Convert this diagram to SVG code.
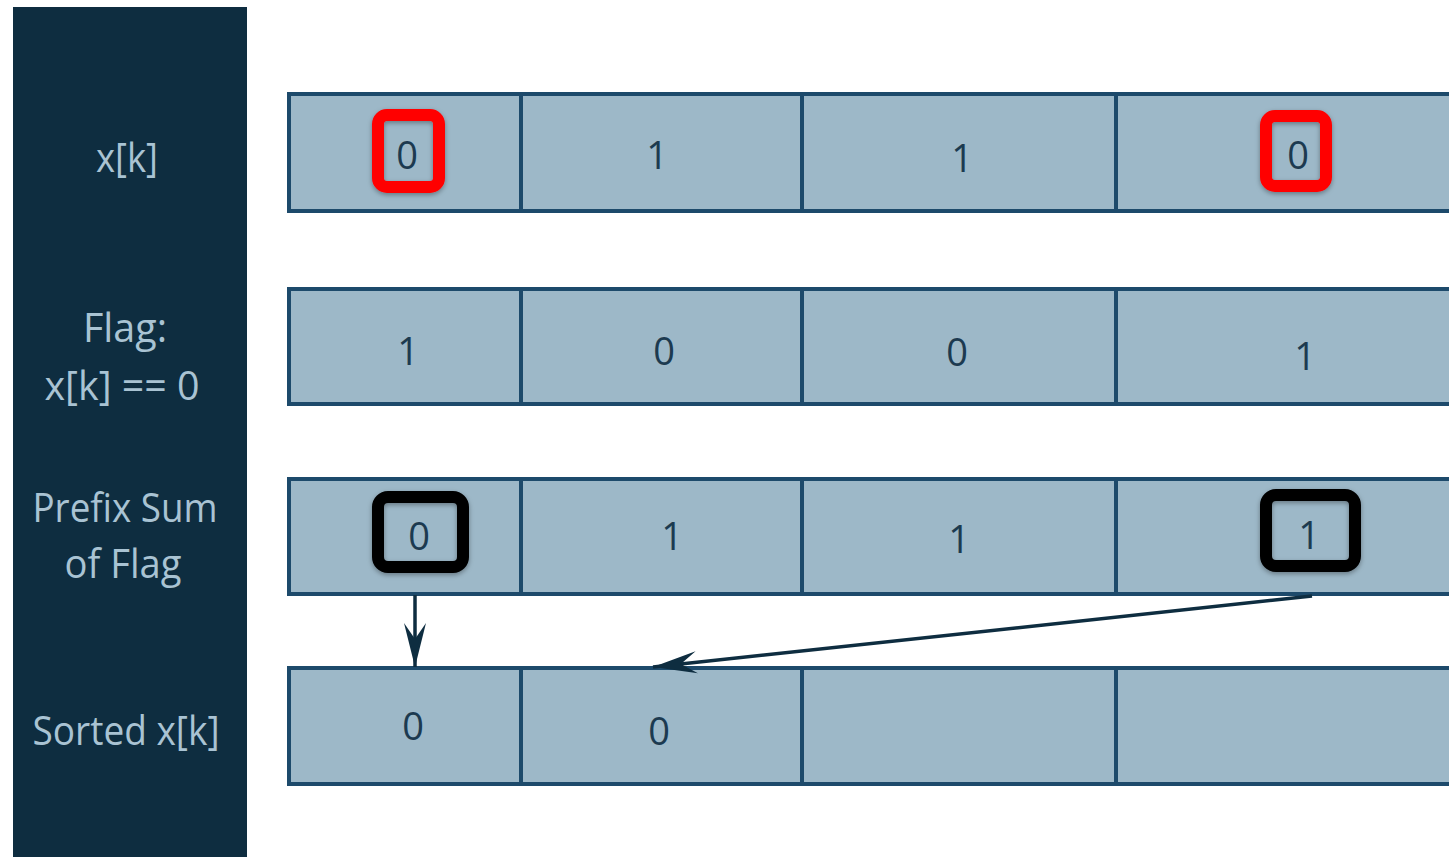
<svg xmlns="http://www.w3.org/2000/svg" width="1449" height="857" viewBox="0 0 1449 857">
<defs>
<style>
.cell{fill:#9db8c8;stroke:#1d4a6b;stroke-width:4}
.lbl{font-family:"Open Sans","Noto Sans","Liberation Sans",sans-serif;font-size:40px;fill:#a9c3d3;text-anchor:middle}
.num{font-family:"Open Sans","Noto Sans","Liberation Sans",sans-serif;font-size:38px;fill:#1c3a50;text-anchor:middle}
.hl{fill:none;stroke-width:12}
.red{stroke:#ff0000}
.blk{stroke:#000000}
.conn{stroke:#0e2d40;stroke-width:3.5;fill:none}
</style>
<marker id="ah" viewBox="0 0 44 24" refX="44" refY="12" markerWidth="44" markerHeight="24" markerUnits="userSpaceOnUse" orient="auto">
<path d="M0,1 L44,12 L0,23 L16,12 Z" fill="#0e2d40"/>
</marker>
<filter id="sh" x="-20%" y="-20%" width="140%" height="140%">
<feDropShadow dx="0" dy="2" stdDeviation="2.5" flood-color="#000" flood-opacity="0.35"/>
</filter>
</defs>
<rect width="1449" height="857" fill="#ffffff"/>
<g id="panel">
<rect x="13" y="7" width="234" height="860" fill="#0e2d40"/>
<text class="lbl" x="127" y="172" textLength="62" lengthAdjust="spacingAndGlyphs">x[k]</text>
<text class="lbl" x="125" y="342" textLength="84" lengthAdjust="spacingAndGlyphs">Flag:</text>
<text class="lbl" x="122" y="400" textLength="155" lengthAdjust="spacingAndGlyphs">x[k] == 0</text>
<text class="lbl" x="125" y="522" textLength="185" lengthAdjust="spacingAndGlyphs">Prefix Sum</text>
<text class="lbl" x="123" y="578" textLength="117" lengthAdjust="spacingAndGlyphs">of Flag</text>
<text class="lbl" x="126" y="745" textLength="187" lengthAdjust="spacingAndGlyphs">Sorted x[k]</text>
</g>
<g id="row-x">
<rect class="cell" x="289" y="94" width="232" height="117"/>
<rect class="cell" x="521" y="94" width="281" height="117"/>
<rect class="cell" x="802" y="94" width="314" height="117"/>
<rect class="cell" x="1116" y="94" width="350" height="117"/>
<text class="num" x="407" y="169">0</text>
<text class="num" x="657" y="169">1</text>
<text class="num" x="962" y="172">1</text>
<text class="num" x="1298" y="169">0</text>
</g>
<g id="row-flag">
<rect class="cell" x="289" y="289" width="232" height="115"/>
<rect class="cell" x="521" y="289" width="281" height="115"/>
<rect class="cell" x="802" y="289" width="314" height="115"/>
<rect class="cell" x="1116" y="289" width="350" height="115"/>
<text class="num" x="408" y="365">1</text>
<text class="num" x="664" y="365">0</text>
<text class="num" x="957" y="366">0</text>
<text class="num" x="1305" y="370">1</text>
</g>
<g id="row-prefix">
<rect class="cell" x="289" y="479" width="232" height="115"/>
<rect class="cell" x="521" y="479" width="281" height="115"/>
<rect class="cell" x="802" y="479" width="314" height="115"/>
<rect class="cell" x="1116" y="479" width="350" height="115"/>
<text class="num" x="419" y="550">0</text>
<text class="num" x="672" y="550">1</text>
<text class="num" x="959" y="553">1</text>
<text class="num" x="1309" y="549">1</text>
</g>
<g id="row-sorted">
<rect class="cell" x="289" y="668" width="232" height="116"/>
<rect class="cell" x="521" y="668" width="281" height="116"/>
<rect class="cell" x="802" y="668" width="314" height="116"/>
<rect class="cell" x="1116" y="668" width="350" height="116"/>
<text class="num" x="413" y="740">0</text>
<text class="num" x="659" y="745">0</text>
</g>
<g id="highlights" filter="url(#sh)">
<rect class="hl red" x="378" y="115" width="61" height="72" rx="9"/>
<rect class="hl red" x="1266" y="116" width="60" height="70" rx="9"/>
<rect class="hl blk" x="378" y="497" width="85" height="70" rx="10"/>
<rect class="hl blk" x="1266" y="495" width="89" height="71" rx="10"/>
</g>
<g id="connectors">
<line class="conn" x1="415" y1="595" x2="415" y2="667" marker-end="url(#ah)"/>
<line class="conn" x1="1312" y1="596" x2="653" y2="667" marker-end="url(#ah)"/>
</g>
</svg>
